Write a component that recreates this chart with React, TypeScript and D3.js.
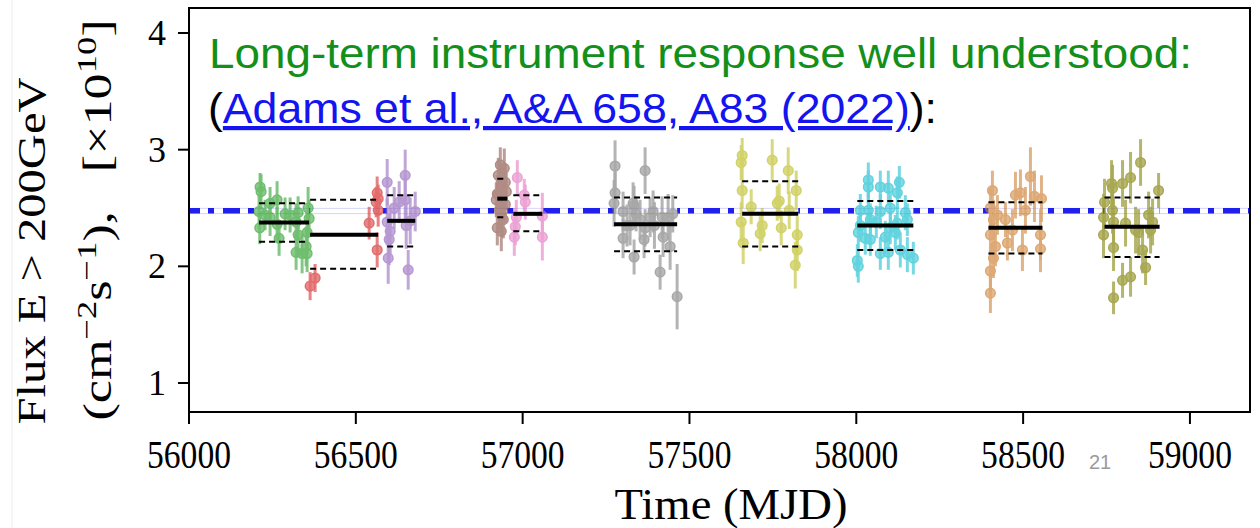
import React from "react";
import * as d3 from "d3";

// ---------- data ----------
const xTicks = [56000, 56500, 57000, 57500, 58000, 58500, 59000];
const yTicks = [1, 2, 3, 4];
const overallMean = 2.477;

const clusterColors = ["#2ca02c", "#d62728", "#9467bd", "#8c564b", "#e377c2", "#7f7f7f", "#bcbd22", "#17becf", "#cd7f32", "#808000"];
const clusterStart = [56210, 56363, 56594, 56924, 56972, 57274, 57658, 58003, 58396, 58744];
const clusterEnd = [56360, 56567, 56678, 56954, 57059, 57463, 57826, 58171, 58558, 58909];
const clusterMean = [2.375, 2.27, 2.39, 2.58, 2.45, 2.36, 2.45, 2.35, 2.33, 2.34];
const clusterHigh = [2.54, 2.57, 2.61, 2.75, 2.61, 2.59, 2.73, 2.56, 2.55, 2.59];
const clusterLow = [2.21, 1.98, 2.17, 2.42, 2.30, 2.13, 2.17, 2.14, 2.11, 2.08];

// [MJD, flux, error]
const greenPts = [[56213, 2.68, 0.12], [56216, 2.64, 0.15], [56210, 2.47, 0.15], [56212, 2.33, 0.14], [56243, 2.54, 0.14], [56243, 2.42, 0.16], [56264, 2.57, 0.16], [56264, 2.36, 0.15], [56270, 2.24, 0.15], [56288, 2.45, 0.14], [56303, 2.44, 0.15], [56321, 2.38, 0.16], [56327, 2.27, 0.16], [56321, 2.12, 0.15], [56339, 2.11, 0.17], [56351, 2.17, 0.17], [56354, 2.11, 0.16], [56357, 2.50, 0.18], [56360, 2.41, 0.16], [56354, 2.29, 0.18], [56327, 2.46, 0.14], [56228, 2.44, 0.13]];
const redPts = [[56363, 1.83, 0.12], [56378, 1.90, 0.12], [56540, 2.37, 0.14], [56564, 2.63, 0.14], [56567, 2.48, 0.14], [56561, 2.55, 0.13], [56564, 2.14, 0.15], [56567, 2.58, 0.12]];
const purplePts = [[56594, 2.72, 0.2], [56594, 2.38, 0.2], [56603, 2.30, 0.2], [56600, 2.23, 0.22], [56597, 2.07, 0.22], [56630, 2.55, 0.18], [56648, 2.78, 0.22], [56648, 2.57, 0.2], [56651, 2.35, 0.2], [56657, 1.97, 0.17], [56678, 2.47, 0.17], [56663, 2.39, 0.2], [56615, 2.50, 0.18]];
const brownPts = [[56933, 2.87, 0.15], [56945, 2.84, 0.17], [56927, 2.78, 0.15], [56948, 2.72, 0.16], [56936, 2.68, 0.15], [56924, 2.62, 0.16], [56939, 2.58, 0.15], [56921, 2.57, 0.15], [56948, 2.53, 0.16], [56930, 2.48, 0.15], [56936, 2.44, 0.17], [56942, 2.40, 0.16], [56924, 2.33, 0.15], [56936, 2.30, 0.17], [56927, 2.62, 0.15], [56951, 2.64, 0.16]];
const pinkPts = [[56984, 2.76, 0.15], [57005, 2.61, 0.14], [57008, 2.55, 0.15], [56981, 2.42, 0.15], [56978, 2.34, 0.16], [56975, 2.25, 0.16], [57059, 2.43, 0.2], [57059, 2.25, 0.2]];
const grayPts = [[57277, 2.86, 0.22], [57367, 2.82, 0.2], [57277, 2.63, 0.18], [57274, 2.54, 0.2], [57301, 2.47, 0.17], [57331, 2.54, 0.18], [57334, 2.52, 0.17], [57322, 2.35, 0.17], [57301, 2.24, 0.17], [57334, 2.08, 0.15], [57364, 2.23, 0.16], [57391, 2.47, 0.18], [57418, 2.42, 0.18], [57421, 2.25, 0.17], [57436, 2.42, 0.2], [57412, 1.95, 0.15], [57442, 2.17, 0.2], [57463, 1.74, 0.28], [57352, 2.40, 0.17], [57367, 2.33, 0.16], [57382, 2.42, 0.17], [57313, 2.35, 0.18], [57340, 2.45, 0.15], [57395, 2.35, 0.2], [57450, 2.45, 0.16]];
const yellowPts = [[57658, 2.95, 0.15], [57655, 2.89, 0.15], [57658, 2.65, 0.15], [57685, 2.51, 0.15], [57655, 2.38, 0.17], [57661, 2.20, 0.18], [57718, 2.35, 0.15], [57712, 2.28, 0.15], [57748, 2.91, 0.18], [57769, 2.56, 0.15], [57763, 2.54, 0.15], [57775, 2.33, 0.15], [57796, 2.82, 0.2], [57820, 2.65, 0.17], [57799, 2.48, 0.16], [57823, 2.27, 0.16], [57823, 2.14, 0.18], [57817, 2.01, 0.2]];
const cyanPts = [[58036, 2.74, 0.15], [58036, 2.68, 0.14], [58072, 2.68, 0.14], [58096, 2.67, 0.15], [58129, 2.72, 0.14], [58123, 2.63, 0.14], [58012, 2.48, 0.14], [58036, 2.48, 0.14], [58072, 2.47, 0.15], [58102, 2.50, 0.14], [58147, 2.46, 0.15], [58006, 2.29, 0.14], [58027, 2.24, 0.14], [58042, 2.23, 0.14], [58072, 2.11, 0.14], [58096, 2.12, 0.15], [58117, 2.29, 0.15], [58132, 2.14, 0.15], [58153, 2.10, 0.15], [58171, 2.07, 0.14], [58006, 2.00, 0.14], [58102, 2.33, 0.14], [58060, 2.38, 0.14], [58123, 2.37, 0.14], [58042, 2.40, 0.14], [58087, 2.25, 0.14], [58012, 2.35, 0.14], [58003, 2.05, 0.14], [58153, 2.40, 0.14]];
const orangePts = [[58408, 2.65, 0.17], [58402, 2.50, 0.17], [58423, 2.44, 0.17], [58411, 2.40, 0.17], [58402, 2.27, 0.17], [58417, 2.17, 0.17], [58411, 2.07, 0.17], [58402, 1.96, 0.18], [58402, 1.77, 0.17], [58447, 2.40, 0.15], [58453, 2.20, 0.15], [58477, 2.61, 0.2], [58492, 2.63, 0.2], [58498, 2.14, 0.18], [58522, 2.77, 0.25], [58534, 2.60, 0.22], [58555, 2.58, 0.2], [58552, 2.27, 0.22], [58552, 2.15, 0.2], [58507, 2.48, 0.2], [58468, 2.31, 0.18]];
const olivePts = [[58744, 2.55, 0.2], [58741, 2.42, 0.2], [58741, 2.27, 0.2], [58765, 2.71, 0.2], [58768, 2.67, 0.2], [58768, 2.48, 0.2], [58771, 2.38, 0.2], [58771, 2.16, 0.2], [58771, 1.73, 0.14], [58798, 2.71, 0.2], [58798, 1.88, 0.15], [58822, 2.76, 0.22], [58822, 1.91, 0.17], [58852, 2.89, 0.2], [58807, 2.37, 0.2], [58837, 2.31, 0.2], [58858, 2.14, 0.2], [58867, 1.99, 0.15], [58882, 2.31, 0.2], [58888, 2.38, 0.2], [58906, 2.65, 0.15], [58876, 2.44, 0.2], [58846, 2.29, 0.2]];

const clusterPoints = [greenPts, redPts, purplePts, brownPts, pinkPts, grayPts, yellowPts, cyanPts, orangePts, olivePts];

// ---------- layout ----------
const W = 1260, H = 528;
const L = 189, R = 1250, T = 8, B = 412;
const x = d3.scaleLinear().domain([56000, 59180]).range([L, R]);
const y = d3.scaleLinear().domain([1, 4]).range([383, 33]);

const serif = "'Liberation Serif', 'DejaVu Serif', serif";
const sans = "'Liberation Sans', Arial, sans-serif";

export default function App() {
  // gaps between observation seasons where the dash-dot mean line is visible
  const edges = [x.domain()[0], ...clusterStart.flatMap((s, i) => [s, clusterEnd[i]]), x.domain()[1]];
  const gaps: [number, number][] = [];
  for (let i = 0; i < edges.length; i += 2) gaps.push([edges[i], edges[i + 1]]);

  return (
    <svg width={W} height={H} style={{ position: "absolute", left: 0, top: 0, background: "#fff" }}>
      <defs>
        <clipPath id="gapclip">
          {gaps.map(([a, b], i) => (
            <rect key={i} x={x(a)} y={T} width={Math.max(0, x(b) - x(a))} height={B - T} />
          ))}
        </clipPath>
        <clipPath id="plotclip">
          <rect x={L} y={T} width={R - L} height={B - T} />
        </clipPath>
      </defs>
      <rect x={0} y={0} width={W} height={H} fill="#fff" />
      <line x1={12} x2={12} y1={0} y2={H} stroke="#ececec" strokeWidth={1} />

      {/* faint band around mean */}
      <g clipPath="url(#plotclip)">
        <line x1={L} x2={R} y1={y(overallMean + 0.02)} y2={y(overallMean + 0.02)} stroke="#d4d4fa" strokeWidth={1} />
        <line x1={L} x2={R} y1={y(overallMean - 0.025)} y2={y(overallMean - 0.025)} stroke="#d4d4fa" strokeWidth={1} />
        <line x1={L} x2={R} y1={y(overallMean)} y2={y(overallMean)} stroke="#1f1fee" strokeWidth={5.5}
          strokeDasharray="17 8 6 9" strokeDashoffset={6} clipPath="url(#gapclip)" />
      </g>

      {/* data points */}
      {clusterPoints.map((pts, ci) => (
        <g key={ci} opacity={0.68}>
          {pts.map((p, i) => (
            <g key={i}>
              <line x1={x(p[0])} x2={x(p[0])} y1={y(p[1] - p[2])} y2={y(p[1] + p[2])} stroke={clusterColors[ci]} strokeWidth={3} strokeOpacity={0.85} />
              <circle cx={x(p[0])} cy={y(p[1])} r={4.8} fill={clusterColors[ci]} fillOpacity={0.8} stroke={clusterColors[ci]} strokeWidth={1.5} />
            </g>
          ))}
        </g>
      ))}

      {/* season means and spreads */}
      {clusterStart.map((s, i) => (
        <g key={i}>
          <line x1={x(s)} x2={x(clusterEnd[i])} y1={y(clusterHigh[i])} y2={y(clusterHigh[i])} stroke="#000" strokeWidth={2} strokeDasharray="6 4" />
          <line x1={x(s)} x2={x(clusterEnd[i])} y1={y(clusterLow[i])} y2={y(clusterLow[i])} stroke="#000" strokeWidth={2} strokeDasharray="6 4" />
          <line x1={x(s)} x2={x(clusterEnd[i])} y1={y(clusterMean[i])} y2={y(clusterMean[i])} stroke="#000" strokeWidth={4} />
        </g>
      ))}

      {/* frame */}
      <rect x={L} y={T} width={R - L} height={B - T} fill="none" stroke="#000" strokeWidth={2} />

      {/* y ticks */}
      {yTicks.map((t) => (
        <g key={t}>
          <line x1={L - 11} x2={L} y1={y(t)} y2={y(t)} stroke="#000" strokeWidth={2} />
          <text x={166} y={y(t) + 12} textAnchor="end" fontFamily={serif} fontSize={36} fill="#000">{t}</text>
        </g>
      ))}
      {/* x ticks */}
      {xTicks.map((t) => (
        <g key={t}>
          <line x1={x(t)} x2={x(t)} y1={B} y2={B + 12} stroke="#000" strokeWidth={2} />
          <text x={x(t)} y={468} textAnchor="middle" fontFamily={serif} fontSize={39} fill="#000"
            textLength={84} lengthAdjust="spacingAndGlyphs">{t}</text>
        </g>
      ))}

      <text x={731} y={519} textAnchor="middle" fontFamily={serif} fontSize={44} fill="#000"
        textLength={233} lengthAdjust="spacingAndGlyphs">Time (MJD)</text>

      {/* y label */}
      <g transform="translate(45,251) rotate(-90)">
        <text x={0} y={0} textAnchor="middle" fontFamily={serif} fontSize={40} fill="#000"
          textLength={347} lengthAdjust="spacingAndGlyphs">Flux E &gt; 200GeV</text>
      </g>
      <g transform="translate(111,220) rotate(-90)">
        <text x={0} y={0} textAnchor="middle" fontFamily={serif} fontSize={40} fill="#000"
          textLength={401} lengthAdjust="spacingAndGlyphs">
          <tspan>(cm</tspan>
          <tspan dy={-15} fontSize={28}>−2</tspan>
          <tspan dy={15}>s</tspan>
          <tspan dy={-15} fontSize={28}>−1</tspan>
          <tspan dy={15}>),{"\u00a0\u00a0\u00a0"}[×10</tspan>
          <tspan dy={-15} fontSize={28}>10</tspan>
          <tspan dy={15}>]</tspan>
        </text>
      </g>

      {/* annotation */}
      <text x={209} y={68} fontFamily={sans} fontSize={42} fill="#12901a" textLength={983} lengthAdjust="spacingAndGlyphs">
        Long-term instrument response well understood:
      </text>
      <text x={208} y={123} fontFamily={sans} fontSize={42} fill="#000" textLength={729} lengthAdjust="spacingAndGlyphs">
        <tspan>(</tspan>
        <tspan fill="#1414f0" style={{ textDecoration: "underline" }}>Adams et al., A&amp;A 658, A83 (2022)</tspan>
        <tspan>):</tspan>
      </text>

      <text x={1100} y={469} textAnchor="middle" fontFamily={sans} fontSize={20} fill="#9a9a9a">21</text>
    </svg>
  );
}
